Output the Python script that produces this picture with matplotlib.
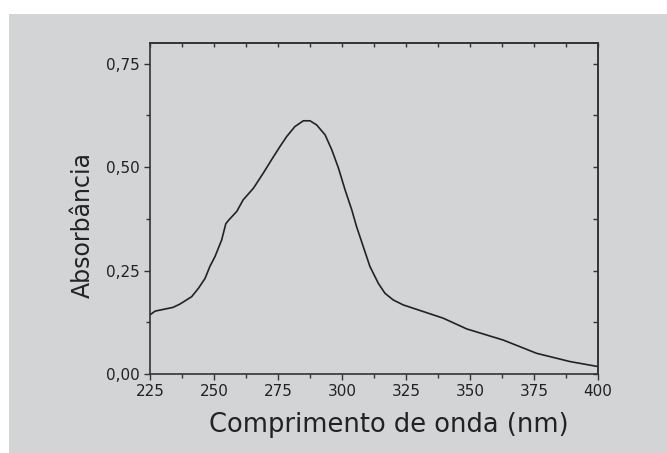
import matplotlib
matplotlib.use("Agg")
import matplotlib.pyplot as plt
from matplotlib.patches import Rectangle
from matplotlib.ticker import MultipleLocator, FuncFormatter

# Data
wavelength_nm = [225.0, 227.0, 234.0, 236.7, 241.3, 243.9, 246.5, 248.4, 250.4, 253.0,
                 254.6, 255.6, 258.9, 261.4, 265.4, 269.3, 272.5, 275.8, 278.4, 281.6,
                 284.9, 287.5, 290.1, 293.4, 296.0, 298.6, 301.2, 303.8, 305.7, 308.3,
                 310.9, 314.2, 316.8, 320.0, 323.9, 331.7, 339.5, 348.7, 363.0, 376.0,
                 389.1, 400.0]
absorbance = [0.143, 0.152, 0.161, 0.169, 0.187, 0.207, 0.231, 0.260, 0.284, 0.324,
              0.363, 0.371, 0.393, 0.421, 0.449, 0.486, 0.518, 0.550, 0.574, 0.598,
              0.612, 0.612, 0.602, 0.578, 0.542, 0.498, 0.445, 0.397, 0.356, 0.308,
              0.260, 0.219, 0.195, 0.179, 0.167, 0.151, 0.135, 0.109, 0.082, 0.050,
              0.030, 0.018]
x_ticks = [225, 250, 275, 300, 325, 350, 375, 400]
y_ticks = [0.0, 0.25, 0.5, 0.75]

bg = "#d3d4d6"
fig = plt.figure(figsize=(6.67, 4.53), dpi=100)
fig.patch.set_facecolor("white")
fig.patches.append(Rectangle((9 / 667, 0), 1, 1 - 14 / 453, transform=fig.transFigure,
                             facecolor=bg, edgecolor="none", zorder=-10))

ax = fig.add_axes([150 / 667, 79 / 453, 448 / 667, 331 / 453])
ax.set_facecolor(bg)
ax.plot(wavelength_nm, absorbance, color="#222222", lw=1.2)

ax.set_xlim(225, 400)
ax.set_ylim(0, 0.80)
ax.set_xticks(x_ticks)
ax.set_yticks(y_ticks)
ax.xaxis.set_minor_locator(MultipleLocator(12.5))
ax.yaxis.set_minor_locator(MultipleLocator(0.125))
ax.yaxis.set_major_formatter(FuncFormatter(lambda v, p: f"{v:.2f}".replace(".", ",")))

spine_c = "#333333"
for s in ax.spines.values():
    s.set_color(spine_c)
    s.set_linewidth(1.2)

ax.tick_params(axis="both", which="major", direction="out", length=4.5, width=1.0,
               color=spine_c, labelsize=11, labelcolor="#222222", pad=3.0)
ax.tick_params(axis="both", which="minor", direction="out", length=3, width=1.0, color=spine_c)

# inward ticks on top / right
ax_r = ax.secondary_yaxis("right")
ax_r.set_yticks(y_ticks)
ax_r.yaxis.set_minor_locator(MultipleLocator(0.125))
ax_r.tick_params(which="both", direction="in", length=3.5, width=1.0, color=spine_c,
                 labelright=False)
ax_r.spines["right"].set_color(spine_c)
ax_r.spines["right"].set_linewidth(1.2)
ax_t = ax.secondary_xaxis("top")
ax_t.set_xticks(x_ticks)
ax_t.xaxis.set_minor_locator(MultipleLocator(12.5))
ax_t.tick_params(which="both", direction="in", length=3, width=1.0, color=spine_c,
                 labeltop=False)
ax_t.spines["top"].set_color(spine_c)
ax_t.spines["top"].set_linewidth(1.2)

ax.set_xlabel("Comprimento de onda (nm)", fontsize=18.5, color="#222222")
ax.set_ylabel("Absorbância", fontsize=17, color="#222222")
ax.xaxis.set_label_coords(0.533, -0.115)
ax.yaxis.set_label_coords(-0.123, 0.449)

fig.savefig("out.png", dpi=100, facecolor=fig.get_facecolor())
